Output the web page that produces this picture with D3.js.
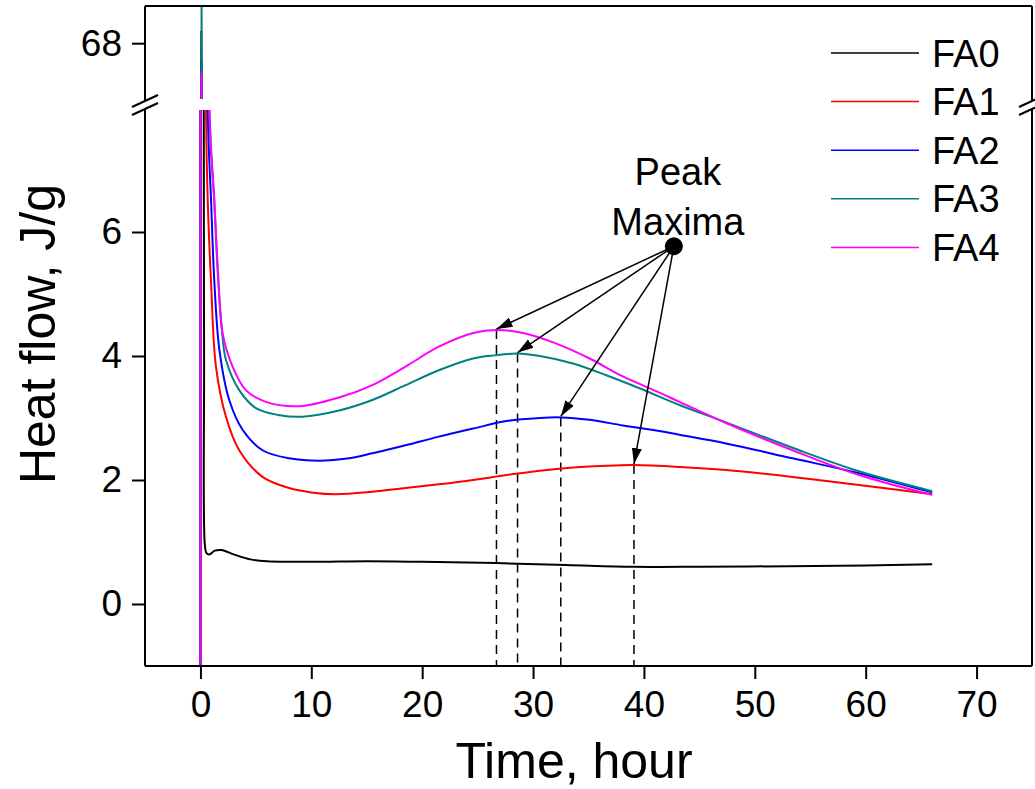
<html>
  <head>
    <script src="https://d3js.org/d3.v7.min.js"></script>
    <style>
      body { margin: 0; background: #fff; }
      text { font-family: "Liberation Sans", Arial, sans-serif; fill: #000; }
      .axis text { font-size: 37px; }
      .axis path, .axis line { stroke: #000; stroke-width: 2; }
      .title { font-size: 50px; }
      .legend text { font-size: 38px; }
      .note { font-size: 38px; }
    </style>
  </head>
  <body>
    <svg id="chart" width="1035" height="789"></svg>
    <script>
      const svg = d3.select("svg#chart");
      const frame = {left: 145, right: 1032, top: 6, bottom: 666, breakTop: 99, breakBottom: 110};

      // series as [time (hour), heat flow (J/g)]
      const names = ["FA0", "FA1", "FA2", "FA3", "FA4"];
      const colors = ["#000000", "#ff0000", "#0000ff", "#008080", "#ff00ff"];

      const FA0 = [[0,-1.5],[0.08,68.2],[0.3,8],[0.33,4],[0.4,0.95],[0.55,0.82],[0.8,0.8],[1.3,0.86],[1.9,0.87],[3,0.8],[4.5,0.72],[6,0.69],[10,0.68],[15,0.69],[20,0.68],[26.7,0.66],[33,0.63],[39,0.6],[45,0.6],[53,0.61],[60,0.62],[66,0.64]];
      const FA1 = [[0,-1.5],[0.1,67.3],[0.5,8],[0.66,6.5],[0.96,5.18],[1.4,3.83],[2.3,3.02],[3.5,2.48],[5.6,2.05],[8,1.87],[10,1.8],[12.2,1.77],[15.5,1.81],[18.5,1.87],[21.5,1.93],[24.6,2.0],[27.6,2.08],[30.6,2.15],[33.6,2.2],[36.6,2.23],[39.1,2.24],[43.2,2.21],[47.4,2.16],[53.4,2.05],[59.4,1.92],[66,1.77]];
      const FA2 = [[0,-1.5],[0.1,67.73],[0.66,8],[0.96,6.5],[1.26,5.18],[1.71,4.1],[2.6,3.29],[3.8,2.81],[5.6,2.48],[8,2.35],[10.7,2.31],[13.4,2.35],[15.5,2.43],[18.5,2.56],[21.5,2.7],[24.6,2.83],[27.6,2.95],[30.6,3.0],[32.5,3.01],[35.1,2.97],[38.1,2.88],[41.4,2.79],[43.2,2.73],[47.4,2.59],[53.4,2.35],[59.4,2.11],[66,1.8]];
      const FA3 = [[0,-1.5],[0.1,69],[0.8,8],[1.26,6.45],[1.56,5.35],[2.0,4.3],[2.3,3.94],[3.5,3.45],[5.0,3.16],[7,3.05],[9.2,3.02],[12.5,3.12],[15.5,3.29],[18.5,3.53],[21.5,3.77],[24.6,3.96],[26.5,4.01],[28.6,4.04],[30.6,4.0],[33.6,3.88],[36.6,3.69],[39.6,3.48],[43.2,3.21],[47.4,2.93],[53.4,2.52],[59.4,2.14],[66,1.82]];
      const FA4 = [[0,-1.5],[0.1,67.52],[0.8,8],[1.26,6.5],[1.56,5.44],[2.0,4.37],[2.9,3.83],[4.1,3.45],[5.9,3.26],[8.9,3.19],[12.5,3.33],[15.5,3.53],[18.5,3.83],[21.5,4.15],[24.6,4.37],[26.7,4.42],[29.1,4.37],[32.1,4.2],[35.1,3.96],[38.1,3.67],[41.4,3.41],[43.2,3.26],[47.4,2.92],[53.4,2.48],[59.4,2.08],[66,1.76]];
      const series = [FA0, FA1, FA2, FA3, FA4];

      // peak maxima marked by the arrows (FA4, FA3, FA2, FA1)
      const peakTimes = [26.7, 28.6, 32.5, 39.1];
      const peakValues = [4.42, 4.04, 3.01, 2.24];
      const notePoint = [42.7, 5.77];

      const xTicks = [0, 10, 20, 30, 40, 50, 60, 70];
      const lowTicks = [0, 2, 4, 6];
      const highTicks = [68];

      // scales
      const x = d3.scaleLinear().domain([-5, 75]).range([frame.left, frame.right]);
      const yLow = d3.scaleLinear().domain([-1, 8]).range([frame.bottom, 108]);
      const yHigh = d3.scaleLinear().domain([67.1, 68.6]).range([frame.breakTop, frame.top]);

      const defs = svg.append("defs");
      defs.append("clipPath").attr("id", "clipLow").append("rect")
        .attr("x", frame.left).attr("y", frame.breakBottom)
        .attr("width", frame.right - frame.left).attr("height", frame.bottom - frame.breakBottom);
      defs.append("clipPath").attr("id", "clipHigh").append("rect")
        .attr("x", frame.left).attr("y", frame.top)
        .attr("width", frame.right - frame.left).attr("height", frame.breakTop - frame.top);
      defs.append("marker").attr("id", "arrow")
        .attr("markerUnits", "userSpaceOnUse")
        .attr("viewBox", "0 -6 16 12")
        .attr("refX", 16).attr("refY", 0)
        .attr("markerWidth", 16).attr("markerHeight", 12)
        .attr("orient", "auto")
        .append("path").attr("d", "M0,-5L16,0L0,5Z").attr("fill", "#000");

      // dashed drop lines under each peak
      svg.append("g").selectAll("line").data(peakTimes)
        .join("line")
          .attr("x1", d => x(d)).attr("x2", d => x(d))
          .attr("y1", (d, i) => yLow(peakValues[i]))
          .attr("y2", frame.bottom)
          .attr("stroke", "#000").attr("stroke-width", 1.5)
          .attr("stroke-dasharray", "9,6");

      // curves, drawn once per panel and clipped
      const lineLow = d3.line().x(d => x(d[0])).y(d => yLow(d[1])).curve(d3.curveCatmullRom.alpha(0.5));
      const lineHigh = d3.line().x(d => x(d[0])).y(d => yHigh(d[1])).curve(d3.curveMonotoneX);

      svg.append("g").attr("clip-path", "url(#clipLow)")
        .selectAll("path").data(series)
        .join("path")
          .attr("d", lineLow)
          .attr("fill", "none")
          .attr("stroke", (d, i) => colors[i])
          .attr("stroke-width", 2);

      svg.append("g").attr("clip-path", "url(#clipHigh)")
        .selectAll("path").data(series)
        .join("path")
          .attr("d", lineHigh)
          .attr("fill", "none")
          .attr("stroke", (d, i) => colors[i])
          .attr("stroke-width", 2);

      // axes
      svg.append("g").attr("class", "axis")
        .attr("transform", "translate(0," + frame.bottom + ")")
        .call(d3.axisBottom(x).tickValues(xTicks).tickSize(13).tickPadding(12).tickSizeOuter(0));
      svg.append("g").attr("class", "axis")
        .attr("transform", "translate(" + frame.left + ",0)")
        .call(d3.axisLeft(yLow).tickValues(lowTicks).tickSize(13).tickPadding(10).tickSizeOuter(0));
      svg.append("g").attr("class", "axis")
        .attr("transform", "translate(" + frame.left + ",0)")
        .call(d3.axisLeft(yHigh).tickValues(highTicks).tickFormat(d3.format("d")).tickSize(13).tickPadding(10).tickSizeOuter(0));
      svg.selectAll(".axis .domain").remove();

      // frame with the axis break
      const border = svg.append("g").attr("stroke", "#000").attr("stroke-width", 2).attr("fill", "none");
      border.append("line").attr("x1", frame.left).attr("x2", frame.right).attr("y1", frame.top).attr("y2", frame.top);
      border.append("line").attr("x1", frame.left).attr("x2", frame.right).attr("y1", frame.bottom).attr("y2", frame.bottom);
      [frame.left, frame.right].forEach(px => {
        border.append("line").attr("x1", px).attr("x2", px).attr("y1", frame.top).attr("y2", 101);
        border.append("line").attr("x1", px).attr("x2", px).attr("y1", 109).attr("y2", frame.bottom);
        [101, 109].forEach(py => {
          border.append("line")
            .attr("x1", px - 13).attr("y1", py + 6)
            .attr("x2", px + 13).attr("y2", py - 6);
        });
      });

      // axis titles
      svg.append("text").attr("class", "title")
        .attr("text-anchor", "middle")
        .attr("x", 574).attr("y", 778)
        .text("Time, hour");
      svg.append("text").attr("class", "title")
        .attr("text-anchor", "middle")
        .attr("transform", "translate(55,334) rotate(-90)")
        .text("Heat flow, J/g");

      // legend
      const legend = svg.append("g").attr("class", "legend");
      names.forEach((n, i) => {
        const ly = 53 + i * 48.6;
        legend.append("line")
          .attr("x1", 831).attr("x2", 919).attr("y1", ly).attr("y2", ly)
          .attr("stroke", colors[i]).attr("stroke-width", 1.5);
        legend.append("text")
          .attr("x", 932).attr("y", ly).attr("dy", "0.36em")
          .text(n);
      });

      // "Peak Maxima" note with arrows
      const nx = x(notePoint[0]), ny = yLow(notePoint[1]);
      svg.append("g").selectAll("line").data(peakTimes)
        .join("line")
          .attr("x1", nx).attr("y1", ny)
          .attr("x2", d => x(d))
          .attr("y2", (d, i) => yLow(peakValues[i]) - 1)
          .attr("stroke", "#000").attr("stroke-width", 1.5)
          .attr("marker-end", "url(#arrow)");
      svg.append("circle").attr("cx", nx).attr("cy", ny).attr("r", 9).attr("fill", "#000");
      svg.append("text").attr("class", "note").attr("text-anchor", "middle")
        .attr("x", nx + 4).attr("y", ny - 61).text("Peak");
      svg.append("text").attr("class", "note").attr("text-anchor", "middle")
        .attr("x", nx + 4).attr("y", ny - 11).text("Maxima");
    </script>
  </body>
</html>
